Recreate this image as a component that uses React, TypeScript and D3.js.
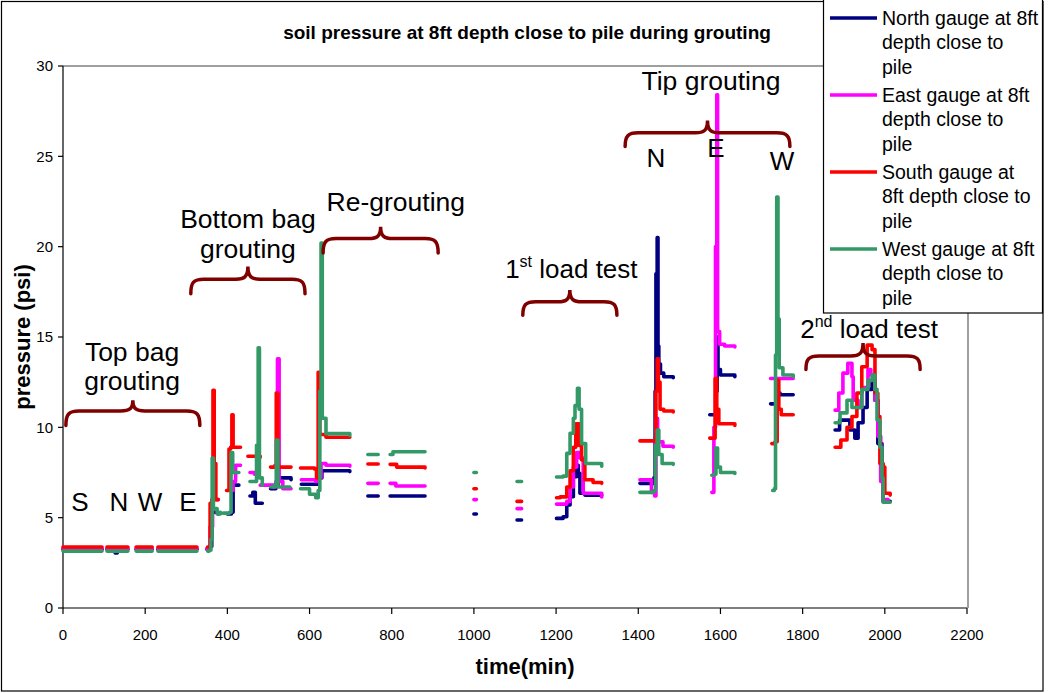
import React from 'react';
import * as d3 from 'd3';

type Pt = [number, number];

// Time (min) / pressure (psi) segments per gauge; each inner array is one continuous recording run.
const northGauge: Pt[][] = [
  [[0, 3.25], [95, 3.25]],
  [[107, 3.25], [122, 3.25], [127, 3.05], [132, 3.25], [158, 3.25]],
  [[178, 3.25], [217, 3.25]],
  [[231, 3.25], [326, 3.25]],
  [[350, 3.25], [358, 3.4], [362, 5.3], [378, 5.2]],
  [[400, 5.2], [410, 5.3], [414, 6.8], [428, 6.8]],
  [[455, 6.2], [462, 6.4], [468, 5.8], [485, 5.8]],
  [[505, 6.6], [518, 6.8], [524, 7.2], [555, 7.1]],
  [[580, 6.85], [615, 6.85], [622, 7.2], [630, 7.6], [698, 7.55]],
  [[742, 6.2], [767, 6.2]],
  [[796, 6.2], [881, 6.2]],
  [[1000, 5.2], [1006, 5.2]],
  [[1105, 4.87], [1116, 4.87]],
  [[1201, 4.96], [1217, 5.05], [1226, 5.7], [1234, 6.16], [1242, 7.27], [1250, 7.9], [1254, 7.45], [1258, 6.35], [1270, 6.25], [1311, 6.25]],
  [[1404, 6.9], [1433, 6.9], [1438, 7.2], [1441, 12], [1443, 18.5], [1446, 20.5], [1448, 14.5], [1450, 13.5], [1454, 13.0], [1462, 12.8], [1485, 12.75]],
  [[1574, 10.7], [1585, 10.7], [1589, 12], [1592, 15.0], [1594, 13.2], [1600, 12.9], [1635, 12.8]],
  [[1722, 11.3], [1730, 11.3], [1735, 11.9], [1745, 11.8], [1777, 11.8]],
  [[1879, 9.85], [1890, 10.4], [1900, 10.4], [1915, 9.85], [1927, 9.4], [1935, 10.25], [1947, 11.1], [1957, 12.1], [1969, 12.6], [1976, 11.5], [1983, 9.1], [1993, 7.1], [1996, 5.9], [2013, 5.9]],
];

const eastGauge: Pt[][] = [
  [[0, 3.3], [95, 3.3]],
  [[107, 3.3], [158, 3.3]],
  [[178, 3.3], [217, 3.3]],
  [[231, 3.3], [326, 3.3]],
  [[350, 3.3], [358, 4.5], [364, 6.0], [378, 6.0]],
  [[405, 6.5], [414, 7.0], [420, 7.9], [432, 7.9]],
  [[455, 7.5], [466, 7.4]],
  [[480, 6.8], [512, 6.7], [518, 7.0], [522, 13.8], [526, 7.0], [535, 6.6], [555, 6.6]],
  [[580, 7.1], [615, 7.0], [622, 7.2], [628, 8.0], [640, 7.9], [698, 7.85]],
  [[742, 6.9], [767, 6.9]],
  [[796, 6.9], [810, 6.75], [881, 6.75]],
  [[1000, 6.0], [1006, 6.0]],
  [[1105, 5.5], [1116, 5.5]],
  [[1201, 5.75], [1226, 5.9], [1234, 6.7], [1242, 7.8], [1250, 8.6], [1258, 8.3], [1266, 6.35], [1311, 6.15]],
  [[1404, 7.1], [1428, 7.1], [1432, 6.4], [1440, 6.2], [1443, 10.5], [1447, 9.2], [1460, 8.95], [1485, 8.9]],
  [[1579, 6.4], [1584, 10], [1588, 20], [1591, 28.4], [1593, 15.3], [1598, 14.6], [1610, 14.5], [1635, 14.45]],
  [[1722, 12.7], [1777, 12.7]],
  [[1879, 10.95], [1888, 11.9], [1898, 13.0], [1910, 13.55], [1920, 12.8], [1923, 11.5], [1935, 11.1], [1944, 12.2], [1959, 13.2], [1966, 12.9], [1976, 11.5], [1983, 9.5], [1990, 7.0], [1996, 6.0], [2008, 5.95]],
];

const southGauge: Pt[][] = [
  [[0, 3.38], [95, 3.38]],
  [[107, 3.38], [158, 3.38]],
  [[178, 3.38], [217, 3.38]],
  [[231, 3.38], [326, 3.38]],
  [[352, 3.38], [358, 5.8], [362, 6.0], [365, 12.05], [368, 8.0], [372, 6.0], [378, 6.0]],
  [[398, 6.5], [404, 8.8], [408, 8.9], [411, 10.7], [414, 8.9], [432, 8.9]],
  [[450, 8.4], [480, 8.35]],
  [[505, 7.8], [516, 7.9], [519, 11.9], [523, 7.8], [555, 7.8]],
  [[578, 7.75], [612, 7.7], [617, 7.2], [621, 13.05], [625, 9.6], [640, 9.45], [698, 9.45]],
  [[742, 7.97], [767, 7.97]],
  [[796, 7.95], [805, 7.95], [812, 7.8], [881, 7.75]],
  [[1000, 6.6], [1006, 6.6]],
  [[1105, 5.9], [1116, 5.9]],
  [[1201, 6.1], [1210, 6.15], [1226, 6.7], [1234, 7.6], [1242, 8.9], [1248, 10.2], [1252, 10.2], [1256, 9.0], [1262, 8.2], [1270, 7.1], [1290, 6.95], [1311, 6.9]],
  [[1404, 9.25], [1433, 9.25], [1440, 9.3], [1443, 12], [1446, 13.8], [1449, 12.5], [1453, 11.0], [1462, 10.9], [1485, 10.85]],
  [[1574, 9.4], [1584, 9.4], [1587, 12.7], [1591, 11.0], [1596, 10.2], [1635, 10.1]],
  [[1725, 9.1], [1733, 9.2], [1738, 12.6], [1742, 11.0], [1748, 10.7], [1777, 10.7]],
  [[1879, 8.9], [1893, 9.3], [1908, 10.0], [1920, 10.6], [1932, 11.9], [1944, 13.35], [1957, 14.55], [1969, 14.3], [1976, 11.9], [1983, 10.6], [1988, 8.0], [1996, 7.8], [2000, 6.35], [2013, 6.25]],
];

const westGauge: Pt[][] = [
  [[0, 3.15], [95, 3.15]],
  [[107, 3.15], [158, 3.15]],
  [[178, 3.15], [217, 3.15]],
  [[231, 3.15], [326, 3.15]],
  [[352, 3.15], [356, 3.2], [360, 3.8], [363, 8.3], [366, 5.5], [375, 5.2], [383, 5.3]],
  [[390, 5.25], [405, 5.3], [409, 8.6], [413, 7.5], [428, 7.5]],
  [[455, 7.0], [466, 7.0], [471, 9.0], [475, 14.4], [478, 7.2], [485, 6.8]],
  [[505, 6.7], [515, 6.8], [519, 9.3], [523, 6.7], [552, 6.7]],
  [[578, 6.6], [600, 6.3], [615, 6.1], [621, 6.5], [625, 12], [628, 20.2], [631, 10.5], [640, 9.65], [698, 9.55]],
  [[742, 8.5], [767, 8.5]],
  [[796, 8.5], [803, 8.65], [881, 8.65]],
  [[1000, 7.5], [1006, 7.5]],
  [[1105, 7.0], [1116, 7.0]],
  [[1201, 7.25], [1217, 7.3], [1226, 8.56], [1234, 9.67], [1242, 10.5], [1246, 11.2], [1252, 12.16], [1256, 11.0], [1262, 9.1], [1272, 8.0], [1311, 7.85]],
  [[1404, 6.4], [1433, 6.4], [1438, 6.5], [1442, 9.0], [1446, 9.85], [1450, 8.5], [1458, 8.0], [1485, 7.95]],
  [[1579, 7.35], [1585, 7.4], [1589, 8.85], [1593, 7.8], [1600, 7.5], [1635, 7.45]],
  [[1727, 6.5], [1731, 6.6], [1734, 14], [1737, 22.75], [1740, 16], [1743, 13.3], [1752, 12.9], [1777, 12.8]],
  [[1879, 10.25], [1891, 10.8], [1908, 11.5], [1920, 11.1], [1932, 11.1], [1944, 12.1], [1959, 12.6], [1969, 12.9], [1976, 12.1], [1981, 10.4], [1988, 8.9], [1993, 7.2], [1996, 5.85], [2013, 5.85]],
];

const seriesNames = [
  ['North gauge at 8ft', 'depth close to', 'pile'],
  ['East gauge at 8ft', 'depth close to', 'pile'],
  ['South gauge at', '8ft depth close to', 'pile'],
  ['West gauge at 8ft', 'depth close to', 'pile'],
];
const seriesColors = ['#000080', '#FF00FF', '#FF0000', '#339966'];
const seriesData = [northGauge, eastGauge, southGauge, westGauge];

const xTicks = [0, 200, 400, 600, 800, 1000, 1200, 1400, 1600, 1800, 2000, 2200];
const yTicks = [0, 5, 10, 15, 20, 25, 30];

// Braces over each grouting / test phase: [start, end] in min, end hooks, bar and cusp in psi.
const braces: { t1: number; t2: number; vEnd: number; vLine: number; vPeak: number }[] = [
  { t1: 7, t2: 333, vEnd: 10.1, vLine: 10.9, vPeak: 11.5 },
  { t1: 311, t2: 589, vEnd: 17.4, vLine: 18.2, vPeak: 18.9 },
  { t1: 633, t2: 913, vEnd: 19.65, vLine: 20.45, vPeak: 21.1 },
  { t1: 1119, t2: 1348, vEnd: 16.2, vLine: 16.95, vPeak: 17.6 },
  { t1: 1368, t2: 1769, vEnd: 25.55, vLine: 26.3, vPeak: 26.99 },
  { t1: 1808, t2: 2086, vEnd: 13.2, vLine: 13.95, vPeak: 14.67 },
];

const phaseLabels: { text: string; t: number; v: number }[] = [
  { text: 'Top bag', t: 168, v: 13.67 },
  { text: 'grouting', t: 168, v: 12.07 },
  { text: 'Bottom bag', t: 450, v: 21.03 },
  { text: 'grouting', t: 450, v: 19.37 },
  { text: 'Re-grouting', t: 810, v: 21.97 },
  { text: 'Tip grouting', t: 1577, v: 28.67 },
];

const gaugeLetters: { text: string; t: number; v: number }[] = [
  { text: 'S', t: 41, v: 5.37 },
  { text: 'N', t: 136, v: 5.37 },
  { text: 'W', t: 212, v: 5.37 },
  { text: 'E', t: 304, v: 5.37 },
  { text: 'N', t: 1443, v: 24.4 },
  { text: 'E', t: 1589, v: 24.95 },
  { text: 'W', t: 1750, v: 24.24 },
];

const loadTests: { num: string; sup: string; t: number; v: number }[] = [
  { num: '1', sup: 'st', t: 1076, v: 18.27 },
  { num: '2', sup: 'nd', t: 1794, v: 14.94 },
];

const FONT = '"Liberation Sans", Arial, sans-serif';

export default function App() {
  const width = 1049;
  const height = 693;
  const x = d3.scaleLinear().domain([0, 2200]).range([63, 967]);
  const y = d3.scaleLinear().domain([0, 30]).range([608, 66]);
  // Logger readings hold their value until the next sample.
  const line = d3
    .line<Pt>()
    .curve(d3.curveStepAfter)
    .x((d) => x(d[0]))
    .y((d) => y(d[1]));

  const bracePath = (b: (typeof braces)[number]) => {
    const x1 = x(b.t1);
    const x2 = x(b.t2);
    const xm = (x1 + x2) / 2;
    const ye = y(b.vEnd);
    const yl = y(b.vLine);
    const yp = y(b.vPeak);
    const r = 13;
    const p = d3.path();
    p.moveTo(x1, ye);
    p.bezierCurveTo(x1, yl + 3, x1 + 3, yl, x1 + r, yl);
    p.lineTo(xm - 12, yl);
    p.bezierCurveTo(xm - 4, yl, xm, yl - 2, xm, yp);
    p.bezierCurveTo(xm, yl - 2, xm + 4, yl, xm + 12, yl);
    p.lineTo(x2 - r, yl);
    p.bezierCurveTo(x2 - 3, yl, x2, yl + 3, x2, ye);
    return p.toString();
  };

  return (
    <svg
      width={width}
      height={height}
      style={{ position: 'absolute', left: 0, top: 0, background: '#fff' }}
      fontFamily={FONT}
    >
      <rect x={1.5} y={1.5} width={1041.5} height={689.5} fill="#fff" stroke="#000" strokeWidth={1.2} />

      <text x={527} y={39} textAnchor="middle" fontSize={19} fontWeight="bold">
        soil pressure at 8ft depth close to pile during grouting
      </text>

      {/* plot area frame */}
      <path d={`M${x(0)},${y(30)}H${x(2200) + 1}V${y(0)}`} fill="none" stroke="#808080" strokeWidth={1.5} />

      {/* y axis */}
      <line x1={x(0)} x2={x(0)} y1={y(0)} y2={y(30)} stroke="#000" strokeWidth={1.2} />
      {yTicks.map((t) => (
        <g key={`y${t}`}>
          <line x1={x(0) - 5} x2={x(0)} y1={y(t)} y2={y(t)} stroke="#000" strokeWidth={1.2} />
          <text x={x(0) - 10} y={y(t)} dy="0.36em" textAnchor="end" fontSize={15}>
            {t}
          </text>
        </g>
      ))}

      {/* x axis */}
      <line x1={x(0)} x2={x(2200)} y1={y(0)} y2={y(0)} stroke="#000" strokeWidth={1.2} />
      {xTicks.map((t) => (
        <g key={`x${t}`}>
          <line x1={x(t)} x2={x(t)} y1={y(0)} y2={y(0) + 6} stroke="#000" strokeWidth={1.2} />
          <text x={x(t)} y={640} textAnchor="middle" fontSize={15}>
            {t}
          </text>
        </g>
      ))}

      <text x={525} y={674} textAnchor="middle" fontSize={22} fontWeight="bold">
        time(min)
      </text>
      <text
        transform={`translate(30,${(y(0) + y(30)) / 2}) rotate(-90)`}
        textAnchor="middle"
        fontSize={22}
        fontWeight="bold"
      >
        pressure (psi)
      </text>

      {/* gauge traces */}
      {seriesData.map((segs, i) => (
        <g key={`s${i}`} fill="none" stroke={seriesColors[i]} strokeWidth={3.6} strokeLinejoin="round" strokeLinecap="round">
          {segs.map((seg, j) => (
            <path key={j} d={line(seg) || ''} />
          ))}
        </g>
      ))}

      {/* phase annotations */}
      {braces.map((b, i) => (
        <path key={`b${i}`} d={bracePath(b)} fill="none" stroke="#800000" strokeWidth={3.5} strokeLinecap="round" />
      ))}
      {phaseLabels.map((l, i) => (
        <text key={`l${i}`} x={x(l.t)} y={y(l.v)} textAnchor="middle" fontSize={26.5}>
          {l.text}
        </text>
      ))}
      {gaugeLetters.map((l, i) => (
        <text key={`g${i}`} x={x(l.t)} y={y(l.v)} textAnchor="middle" fontSize={26}>
          {l.text}
        </text>
      ))}
      {loadTests.map((l, i) => (
        <text key={`t${i}`} x={x(l.t)} y={y(l.v)} fontSize={26}>
          {l.num}
          <tspan fontSize={16} dy={-11}>
            {l.sup}
          </tspan>
          <tspan dy={11}> load test</tspan>
        </text>
      ))}

      {/* legend */}
      <g>
        <rect x={823.5} y={-1} width={219} height={314} fill="#fff" stroke="#000" strokeWidth={1.2} />
        {seriesNames.map((lines, i) => {
          const top = 18 + i * 77;
          return (
            <g key={`lg${i}`}>
              <line x1={830} x2={877} y1={top} y2={top} stroke={seriesColors[i]} strokeWidth={3.6} />
              {lines.map((s, k) => (
                <text key={k} x={882} y={top + 6.5 + k * 24.5} fontSize={19.5}>
                  {s}
                </text>
              ))}
            </g>
          );
        })}
      </g>
    </svg>
  );
}
